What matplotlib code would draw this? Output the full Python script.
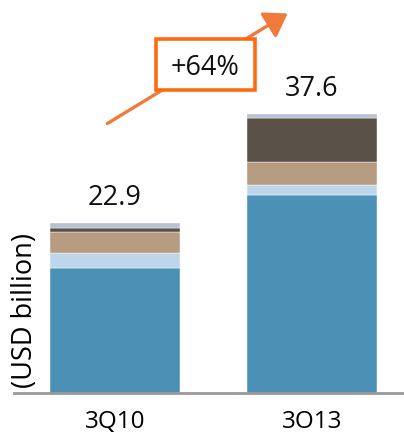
import matplotlib
matplotlib.use("Agg")
import matplotlib.pyplot as plt
from matplotlib.patches import FancyArrowPatch, Rectangle

plt.rcParams['font.family'] = ['Open Sans', 'DejaVu Sans']

categories = ["3Q10", "3O13"]
totals = [22.9, 37.6]
seg_blue = [16.8, 26.7]
seg_lightblue = [2.1, 1.35]
seg_tan = [2.8, 3.1]
seg_dark = [0.55, 5.9]
seg_top = [0.65, 0.55]
growth_label = "+64%"

segments = [seg_blue, seg_lightblue, seg_tan, seg_dark, seg_top]
colors = ["#4B91B5", "#BED6EC", "#B89C82", "#5A5148", "#B6C1D2"]

W, H = 404, 434
fig = plt.figure(figsize=(W / 100, H / 100), dpi=100)
ax = fig.add_axes([14 / W, (H - 393) / H, 390 / W, 393 / H])

x = [0, 1]
bottom = [0.0, 0.0]
for seg, c in zip(segments, colors):
    ax.bar(x, seg, bottom=bottom, width=0.66, color=c, edgecolor="white", linewidth=0.3)
    bottom = [b + s for b, s in zip(bottom, seg)]

for xi, t in zip(x, totals):
    ax.text(xi, t + 2.4, f"{t:.1f}", ha="center", va="baseline", fontsize=19.5, color="#111111")

ax.set_xlim(-0.513, 1.467)
ax.set_ylim(0, 52.96)
for s in ["top", "right", "left"]:
    ax.spines[s].set_visible(False)
ax.spines["bottom"].set_color("#999999")
ax.spines["bottom"].set_linewidth(2)
ax.set_yticks([])
ax.set_xticks(x)
ax.set_xticklabels(categories, fontsize=17.5)
ax.tick_params(axis="x", length=0, pad=12)

fig.text(25 / W, 1 - 311 / H, "(USD billion)", rotation=90, ha="center", va="center", fontsize=19.5)

def fx(px):
    return px / W

def fy(py):
    return 1 - py / H

arrow = FancyArrowPatch((fx(105), fy(125)), (fx(290), fy(12)), transform=fig.transFigure,
                        arrowstyle="-|>,head_length=9,head_width=6", color="#F07A3C",
                        linewidth=2.4, mutation_scale=1.5)
fig.add_artist(arrow)
box = Rectangle((fx(156), fy(90)), fx(255) - fx(156), fy(39) - fy(90), transform=fig.transFigure,
                facecolor="white", edgecolor="#FF6A10", linewidth=2.6)
fig.add_artist(box)
fig.text(fx(205), fy(68), growth_label, ha="center", va="center", fontsize=19.5, color="#111111")

fig.savefig("out.png", dpi=100)
